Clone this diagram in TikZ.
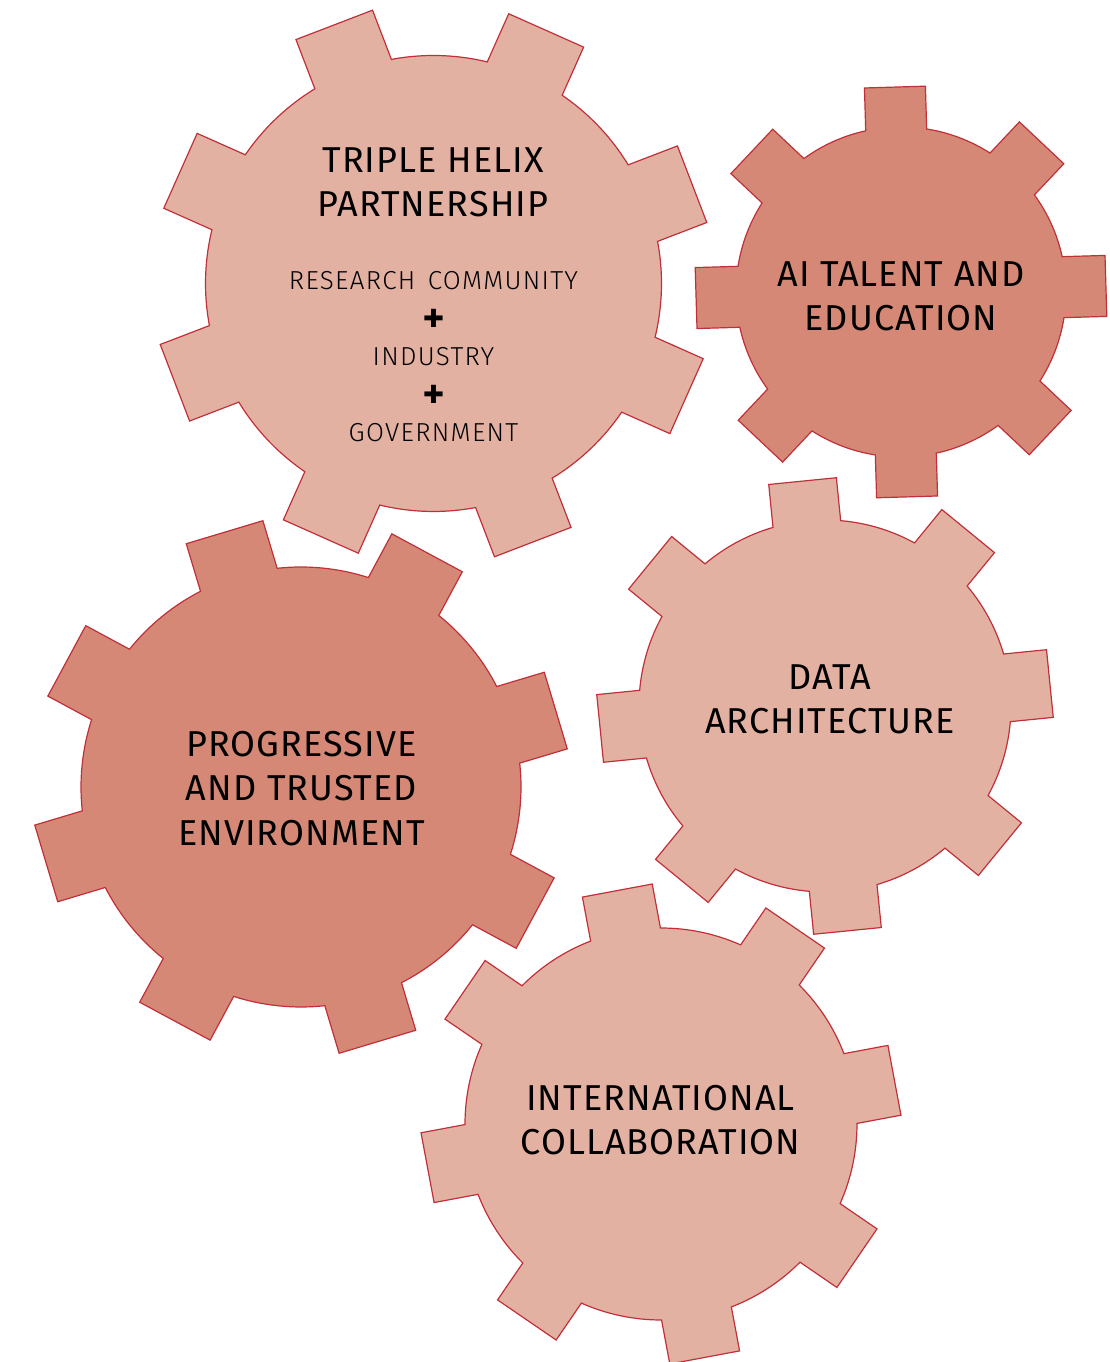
\documentclass[tikz,border=0pt]{standalone}
\usepackage{fontspec}
\setmainfont{Fira Sans}[LetterSpace=3]
\newfontfamily\lightfont{Fira Sans Light}[LetterSpace=5]
\newfontfamily\symfont{DejaVu Sans}
\definecolor{gearpale}{HTML}{E3B1A2}
\definecolor{geardark}{HTML}{D48875}
\definecolor{gearedge}{HTML}{C0303A}
\tikzset{
  palegear/.style={fill=gearpale, draw=gearedge, line width=1.2pt},
  darkgear/.style={fill=geardark, draw=gearedge, line width=1.2pt},
  title/.style={align=center, inner sep=0pt, font=\fontsize{36}{44.5}\selectfont},
  members/.style={align=center, inner sep=0pt, font=\lightfont\fontsize{26}{38}\selectfont}
}
% #1 style, #2 centre, #3 body radius, #4 tip radius, #5 half tooth width, #6 first tooth angle
\newcommand{\drawgear}[6]{
  \pgfmathsetmacro\gbase{asin(#5/#3)}
  \pgfmathsetmacro\gtip{atan(#5/#4)}
  \pgfmathsetmacro\gtipr{#4/cos(\gtip)}
  \draw[#1, shift={#2}] ({#6-\gbase}:#3)
    \foreach \k in {0,...,7}{
      -- ({#6+45*\k-\gtip}:\gtipr) -- ({#6+45*\k+\gtip}:\gtipr)
      -- ({#6+45*\k+\gbase}:#3)
      arc[start angle={#6+45*\k+\gbase}, delta angle={45-2*\gbase}, radius=#3]
    } -- cycle;
}
\begin{document}
\begin{tikzpicture}[x=1pt, y=1pt]
\useasboundingbox (0,0) rectangle (1110,1362);
% gears
\drawgear{palegear}{(433.5,1078.5)}{228}{277}{41}{21}
\drawgear{darkgear}{(901,1070)}{165}{205}{30.5}{1.7}
\drawgear{darkgear}{(301,575)}{220}{266}{40}{16.7}
\drawgear{palegear}{(825,656)}{186}{226}{34}{5.7}
\drawgear{palegear}{(661,238)}{196}{237.5}{35.5}{10.6}
% labels
\node[title] (helix) at (433,1179.7) {TRIPLE HELIX\\PARTNERSHIP};
\node[members] (partners) at (433.5,1005.5) {RESEARCH\hspace{4pt} COMMUNITY\\{\symfont\fontsize{25}{38}\selectfont ✚}\\INDUSTRY\\{\symfont\fontsize{25}{38}\selectfont ✚}\\GOVERNMENT};
\node[title] (talent) at (901,1065.8) {AI TALENT AND\\EDUCATION};
\node[title] (trust) at (301.5,573.8) {PROGRESSIVE\\AND TRUSTED\\ENVIRONMENT};
\node[title] (data) at (830,662.7) {DATA\\ARCHITECTURE};
\node[title] (global) at (660.5,241.7) {INTERNATIONAL\\COLLABORATION};
\end{tikzpicture}
\end{document}
